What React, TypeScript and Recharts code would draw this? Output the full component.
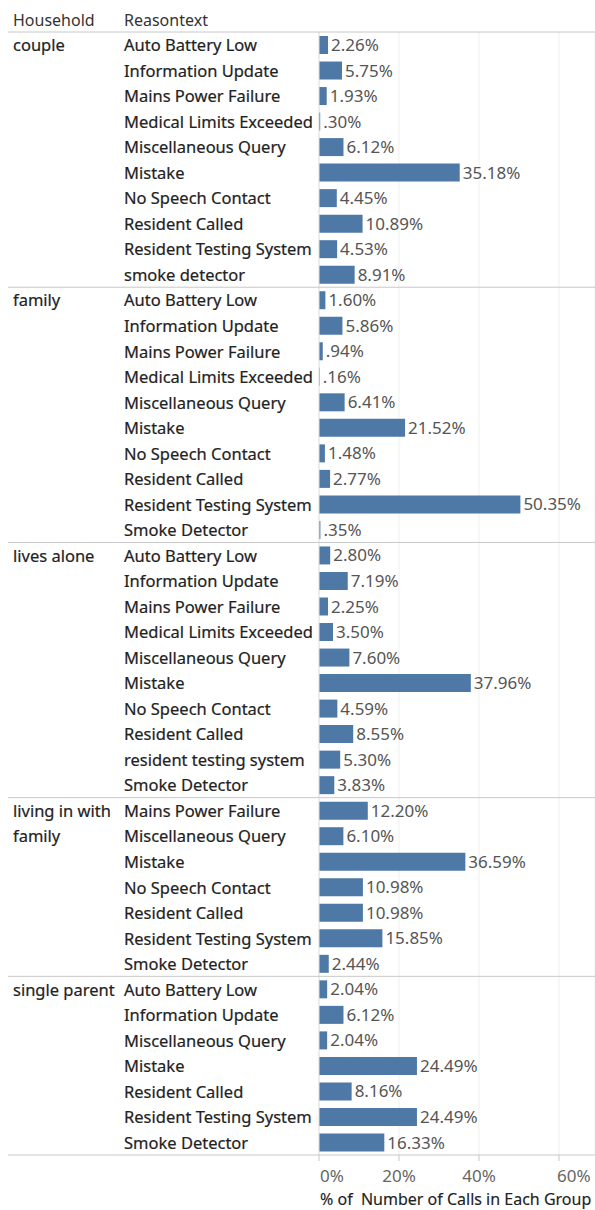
import React from "react";
import { BarChart, Bar, XAxis, YAxis, CartesianGrid, LabelList } from "recharts";

const households = ["couple", "family", "lives alone", "living in with family", "single parent"];
const householdLines = [["couple"], ["family"], ["lives alone"], ["living in with", "family"], ["single parent"]];

const reasonsCouple = ["Auto Battery Low", "Information Update", "Mains Power Failure", "Medical Limits Exceeded", "Miscellaneous Query", "Mistake", "No Speech Contact", "Resident Called", "Resident Testing System", "smoke detector"];
const valuesCouple = [2.26, 5.75, 1.93, 0.3, 6.12, 35.18, 4.45, 10.89, 4.53, 8.91];

const reasonsFamily = ["Auto Battery Low", "Information Update", "Mains Power Failure", "Medical Limits Exceeded", "Miscellaneous Query", "Mistake", "No Speech Contact", "Resident Called", "Resident Testing System", "Smoke Detector"];
const valuesFamily = [1.6, 5.86, 0.94, 0.16, 6.41, 21.52, 1.48, 2.77, 50.35, 0.35];

const reasonsAlone = ["Auto Battery Low", "Information Update", "Mains Power Failure", "Medical Limits Exceeded", "Miscellaneous Query", "Mistake", "No Speech Contact", "Resident Called", "resident testing system", "Smoke Detector"];
const valuesAlone = [2.8, 7.19, 2.25, 3.5, 7.6, 37.96, 4.59, 8.55, 5.3, 3.83];

const reasonsWithFamily = ["Mains Power Failure", "Miscellaneous Query", "Mistake", "No Speech Contact", "Resident Called", "Resident Testing System", "Smoke Detector"];
const valuesWithFamily = [12.2, 6.1, 36.59, 10.98, 10.98, 15.85, 2.44];

const reasonsSingle = ["Auto Battery Low", "Information Update", "Miscellaneous Query", "Mistake", "Resident Called", "Resident Testing System", "Smoke Detector"];
const valuesSingle = [2.04, 6.12, 2.04, 24.49, 8.16, 24.49, 16.33];

const xTicks = [0, 20, 40, 60];
const headerLabels = ["Household", "Reasontext"];
const axisTitle = "% of  Number of Calls in Each Group";

const groupReasons = [reasonsCouple, reasonsFamily, reasonsAlone, reasonsWithFamily, reasonsSingle];
const groupValues = [valuesCouple, valuesFamily, valuesAlone, valuesWithFamily, valuesSingle];

type Row = { key: string; household: string; reason: string; value: number; group: number; first: boolean };
const rows: Row[] = [];
groupReasons.forEach((rs, g) => {
  rs.forEach((r, i) => {
    rows.push({ key: `${g}-${i}`, household: households[g], reason: r, value: groupValues[g][i], group: g, first: i === 0 });
  });
});

const W = 595;
const H = 1210;
const TOP = 32;
const XAXIS_H = 55;
const PLOT_H = H - TOP - XAXIS_H;
const BAND = PLOT_H / rows.length;
const LEFT = 319;
const FONT = "'Noto Sans', sans-serif";

const fmt = (v: number) => {
  const s = v.toFixed(2);
  return (s.startsWith("0") ? s.slice(1) : s) + "%";
};

const labelStyle = { fontFamily: FONT, fontSize: 16.5, fill: "#222", stroke: "#222", strokeWidth: 0.2 } as const;

const YTick = (props: any) => {
  const { y, index } = props;
  const row = rows[index];
  if (!row) return null;
  const top = y - BAND / 2;
  const bottom = y + BAND / 2;
  return (
    <g>
      {index === 0 && (
        <>
          <text x={13} y={top - 12} fontFamily={FONT} fontSize={16} fill="#333" dominantBaseline="central">{headerLabels[0]}</text>
          <text x={124} y={top - 12} fontFamily={FONT} fontSize={16} fill="#333" dominantBaseline="central">{headerLabels[1]}</text>
        </>
      )}
      {row.first && <line x1={8} x2={W} y1={top} y2={top} stroke="#c8c8c8" strokeWidth={1} />}
      {index === rows.length - 1 && <line x1={8} x2={W} y1={bottom} y2={bottom} stroke="#c8c8c8" strokeWidth={1} />}
      {row.first &&
        householdLines[row.group].map((l, k) => (
          <text key={k} x={13} y={y + k * BAND} style={labelStyle} dominantBaseline="central">{l}</text>
        ))}
      <text x={124} y={y} style={labelStyle} dominantBaseline="central">{row.reason}</text>
    </g>
  );
};

const XTick = (props: any) => {
  const { x, y, payload, index } = props;
  const v = payload.value;
  const anchor = v === 0 || v === 60 ? "start" : "middle";
  return (
    <g>
      <text x={v === 0 ? x + 1 : x - (v === 60 ? 2 : 0)} y={y + 12} fontFamily={FONT} fontSize={17} fill="#666" textAnchor={anchor} dominantBaseline="central">{`${v}%`}</text>
      {index === 0 && (
        <text x={x + 1} y={y + 36} fontFamily={FONT} fontSize={16} fill="#222" stroke="#222" strokeWidth={0.15} dominantBaseline="central" style={{ whiteSpace: "pre" }}>{axisTitle}</text>
      )}
    </g>
  );
};

export default function App() {
  return (
    <div style={{ position: "absolute", left: 0, top: 0, width: W, height: H, background: "#fff" }}>
      <style>{`html,body{margin:0;padding:0;overflow:hidden;}`}</style>
      <BarChart
        width={W}
        height={H}
        data={rows}
        layout="vertical"
        margin={{ top: TOP, right: 0, bottom: 0, left: 0 }}
        barCategoryGap={0}
      >
        <CartesianGrid horizontal={false} vertical={true} stroke="#efefef" />
        <XAxis
          type="number"
          domain={[0, 69]}
          ticks={xTicks}
          height={XAXIS_H}
          axisLine={false}
          tickLine={{ stroke: "#c8c8c8" }}
          tickSize={6}
          tick={<XTick />}
          allowDataOverflow
        />
        <YAxis
          type="category"
          dataKey="key"
          width={LEFT}
          axisLine={{ stroke: "#e2e2e2" }}
          tickLine={false}
          interval={0}
          tick={<YTick />}
        />
        <Bar dataKey="value" fill="#4e79a7" barSize={18} isAnimationActive={false}>
          <LabelList dataKey="value" position="right" offset={3} formatter={(v: any) => fmt(Number(v))} style={{ fontFamily: FONT, fontSize: 17, fill: "#555" }} />
        </Bar>
      </BarChart>
    </div>
  );
}
